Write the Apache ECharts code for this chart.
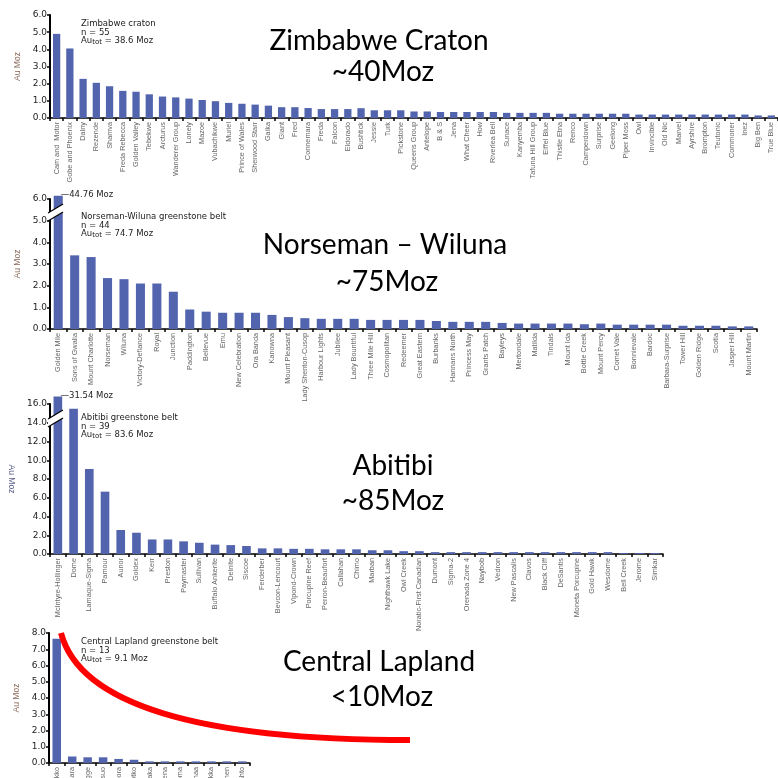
<!DOCTYPE html>
<html><head><meta charset="utf-8">
<script src="https://cdn.jsdelivr.net/npm/echarts@6/dist/echarts.min.js"></script>
<style>html,body{margin:0;padding:0;background:#fff}#c{width:778px;height:778px}</style>
</head><body><div id="c"></div><script>
// ---------- DATA ----------
const zimCats = ["Cam and  Motor","Gobe and Phoenix","Dalny","Rezende","Shamva","Freda Rebecca","Golden Valley","Tebekwe","Arcturus","Wanderer Group","Lonely","Mazoe","Vubachikwe","Muriel","Prince of Wales","Sherwood Starr","Gaika","Giant","Fred","Connemara","Freda","Falcon","Eldorado","Bushtick","Jessie","Turk","Pickstone","Queens Group","Antelope","B & S","Jena","What Cheer","How","Riverlea Bell","Sunace","Kanyemba","Tafuna Hill Group","Eiffel Blue","Thistle Etna","Renco","Camperdown","Surprise","Geelong","Piper Moss","Owl","Invincible","Old Nic","Marvel","Ayrshire","Brompton","Teutonic","Commoner","Inez","Big Ben","True Blue"];
const zimVals = [4.9,4.05,2.28,2.05,1.85,1.58,1.53,1.38,1.25,1.2,1.13,1.05,0.98,0.88,0.83,0.78,0.72,0.63,0.63,0.58,0.52,0.52,0.52,0.57,0.45,0.45,0.45,0.38,0.38,0.35,0.35,0.35,0.35,0.35,0.3,0.3,0.3,0.3,0.25,0.25,0.25,0.25,0.25,0.25,0.2,0.2,0.2,0.2,0.2,0.2,0.2,0.2,0.2,0.15,0.15];

const norCats = ["Golden Mile","Sons of Gwalia","Mount Charlotte","Norseman","Wiluna","Victory-Defiance","Royal","Junction","Paddington","Bellevue","Emu","New Celebration","Ora Banda","Kanowna","Mount Pleasant","Lady Shenton-Cusop","Harbour Lights","Jubilee","Lady Bountiful","Three Mile Hill","Cosmopolitan","Redeemer","Great Eastern","Burbanks","Hannans North","Princess May","Grants Patch","Bayleys","Mertondale","Matilda","Tindals","Mount Ida","Bottle Creek","Mount Percy","Comet Vale","Bonnievale","Bardoc","Barbara-Surprise","Tower Hill","Golden Ridge","Scotia","Jasper Hill","Mount Martin"];
const norVals = [44.76,3.4,3.32,2.35,2.3,2.1,2.1,1.72,0.9,0.8,0.75,0.75,0.75,0.65,0.55,0.5,0.47,0.47,0.47,0.42,0.42,0.42,0.42,0.37,0.33,0.33,0.33,0.28,0.25,0.25,0.25,0.25,0.22,0.25,0.2,0.2,0.2,0.2,0.15,0.15,0.15,0.12,0.12];

const abiCats = ["McIntyre-Hollinger","Dome","Lamaque-Sigma","Pamour","Aunor","Goldex","Kerr","Preston","Paymaster","Sullivan","Buffalo Ankerite","Delnite","Siscoe","Ferderber","Bevcon-Lencourt","Vipond-Crown","Porcupine Reef","Perron-Beaufort","Callahan","Chimo","Marban","Nighthawk Lake","Owl Creek","Noratic-First Canadian","Dumont","Sigma-2","Orenada Zone 4","Naybob","Vedron","New Pascalis","Clavos","Black Cliff","DeSantis","Moneta Porcupine","Gold Hawk","Wesdome","Bell Creek","Jerome","Simkar"];
const abiVals = [31.54,15.5,9.07,6.65,2.56,2.27,1.55,1.55,1.35,1.2,1.0,0.95,0.85,0.6,0.6,0.55,0.55,0.5,0.5,0.5,0.4,0.4,0.3,0.3,0.2,0.2,0.2,0.2,0.2,0.2,0.2,0.2,0.2,0.2,0.2,0.2,0.1,0.1,0.1];

const lapCats = ["Suurikuusikko","Pahtavaara","Kopsagge","Hirvisuo","Saattopora","Iso-Kuotko","Kaaresaka","Soretiavena","Kutuvuoma","Hanhinaa","Sirkka","Loukinen","Konttiahto"];
const lapVals = [7.65,0.4,0.35,0.35,0.25,0.2,0.1,0.1,0.1,0.1,0.1,0.1,0.1];

const noteHeads = ["Zimbabwe craton","Norseman-Wiluna greenstone belt","Abitibi greenstone belt","Central Lapland greenstone belt"];
const noteN = ["n = 55","n = 44","n = 39","n = 13"];
const noteTot = ["38.6","74.7","83.6","9.1"];
const titleA = ["Zimbabwe Craton","Norseman \u2013 Wiluna","Abitibi","Central Lapland"];
const titleB = ["~40Moz","~75Moz","~85Moz","<10Moz"];

// ---------- LAYOUT ----------
const panels = [
  {cats: zimCats, vals: zimVals, max: 6, interval: 1, cap: null, grid:{left:50,top:15,width:728,height:103}, nameRot: 90, nameColor:'#8b6b5b', noteY:24, tA:[379,41], tB:[383,72]},
  {cats: norCats, vals: norVals, max: 6, interval: 1, cap: 6.15, grid:{left:50,top:199,width:707,height:130}, nameRot: 90, nameColor:'#8b6b5b', noteY:217, tA:[385,245], tB:[387,282]},
  {cats: abiCats, vals: abiVals, max: 16, interval: 2, cap: 16.8, grid:{left:50,top:404,width:613,height:150}, nameRot: -90, nameColor:'#5a5f8a', noteY:418, tA:[393,466], tB:[393,501]},
  {cats: lapCats, vals: lapVals, max: 8, interval: 1, cap: null, grid:{left:49,top:633,width:201,height:130}, nameRot: 90, nameColor:'#8b6b5b', noteY:642, tA:[379,662], tB:[382,697]}
];
const BAR = '#5264ae';

const grids = [], xAxes = [], yAxes = [], series = [], graphics = [];
panels.forEach((p, i) => {
  grids.push(Object.assign({containLabel:false, outerBoundsMode:'none'}, p.grid));
  xAxes.push({
    type:'category', gridIndex:i, data:p.cats,
    axisLine:{lineStyle:{color:'#000', width:1.5}},
    axisTick:{show:true, length:3, lineStyle:{color:'#000', width:1.5}},
    axisLabel:{rotate:90, interval:0, fontSize:7.3, color:'#666', margin:4, fontFamily:'Liberation Sans'}
  });
  yAxes.push({
    type:'value', gridIndex:i, min:0, max:p.max, interval:p.interval,
    axisLine:{show:true, lineStyle:{color:'#000', width:2}},
    axisTick:{show:true, length:3, lineStyle:{color:'#000', width:1.5}},
    axisLabel:{formatter: v => v.toFixed(1), fontSize:9, color:'#222', margin:3, fontFamily:'DejaVu Sans'},
    splitLine:{show:false},
    name:'Au Moz', nameLocation:'middle', nameGap:28, nameRotate:p.nameRot,
    nameTextStyle:{color:p.nameColor, fontSize:8.5, fontFamily:'Liberation Sans'}
  });
  const data = p.vals.map((v, k) => {
    if (p.cap !== null && v > p.cap) {
      return {value: p.cap, label:{show:true, position:[7,-5], align:'left', verticalAlign:'top',
        formatter: '\u2014' + v.toFixed(2) + ' Moz', fontSize:8.5, color:'#222', fontFamily:'DejaVu Sans'}};
    }
    return v;
  });
  series.push({type:'bar', xAxisIndex:i, yAxisIndex:i, data, clip:false, barCategoryGap:'45%',
    itemStyle:{color:BAR}, animation:false});
  // annotation
  const fx = 81;
  graphics.push({type:'text', left:fx, top:p.noteY-5, z:50, style:{text:noteHeads[i], fontSize:8.5, fill:'#222', fontFamily:'DejaVu Sans'}});
  graphics.push({type:'text', left:fx, top:p.noteY+4, z:50, style:{text:noteN[i], fontSize:8.5, fill:'#222', fontFamily:'DejaVu Sans'}});
  graphics.push({type:'text', left:fx, top:p.noteY+12, z:50, style:{text:'{a|Au}{s|tot}{a| = ' + noteTot[i] + ' Moz}',
    rich:{a:{fontSize:8.5, fill:'#222', fontFamily:'DejaVu Sans'}, s:{fontSize:7, fill:'#222', fontFamily:'DejaVu Sans', verticalAlign:'bottom', padding:[4,0,0,0]}}}});
  // big titles
  graphics.push({type:'text', z:50, x:p.tA[0], y:p.tA[1], style:{text:titleA[i], font:'28px Lato', fill:'#000', align:'center', verticalAlign:'middle'}});
  graphics.push({type:'text', z:50, x:p.tB[0], y:p.tB[1], style:{text:titleB[i], font:'28px Lato', fill:'#000', align:'center', verticalAlign:'middle'}});
});

// axis breaks (panels 2 and 3)
[[1, 213], [2, 419]].forEach(([pi, yb]) => {
  const x0 = 48, x1 = 63, dy = 9, gap = 8;
  graphics.push({type:'polygon', z:60, shape:{points:[[x0,yb],[x1,yb-dy],[x1,yb-dy+gap],[x0,yb+gap]]}, style:{fill:'#fff'}});
  graphics.push({type:'line', z:61, shape:{x1:x0,y1:yb,x2:x1,y2:yb-dy}, style:{stroke:'#000', lineWidth:1.2}});
  graphics.push({type:'line', z:61, shape:{x1:x0,y1:yb+gap,x2:x1,y2:yb-dy+gap}, style:{stroke:'#000', lineWidth:1.2}});
});

// red decorative curve in the Central Lapland panel
graphics.push({type:'bezierCurve', z:70, shape:{x1:61,y1:633,cpx1:80,cpy1:705,cpx2:200,cpy2:740,x2:410,y2:740},
  style:{stroke:'#ff0000', lineWidth:6, fill:null, lineCap:'butt'}});

const chart = echarts.init(document.getElementById('c'), null, {renderer:'canvas'});
chart.setOption({
  animation:false,
  backgroundColor:'#fff',
  grid:grids, xAxis:xAxes, yAxis:yAxes, series, graphic:graphics
});
</script></body></html>
